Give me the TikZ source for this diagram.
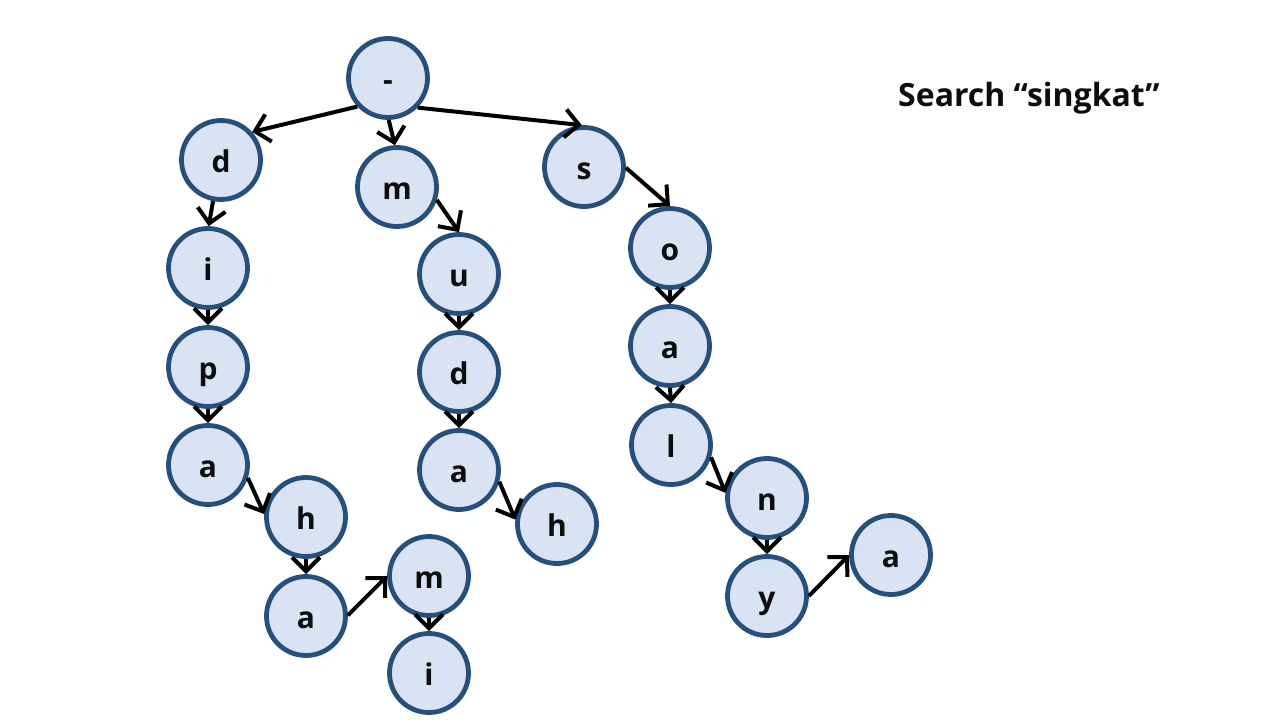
\documentclass[tikz,border=0pt]{standalone}
\usepackage{fontspec}
\setmainfont{Open Sans}
\usetikzlibrary{arrows.meta}
\definecolor{nodefill}{HTML}{DAE3F3}
\definecolor{nodeline}{HTML}{25507D}
\definecolor{ink}{HTML}{0D0D0D}
\begin{document}
\begin{tikzpicture}[x=1pt,y=-1pt,
  letter/.style={circle,draw=nodeline,fill=nodefill,line width=4.8pt,
    minimum size=79pt,inner sep=0pt,text=ink,
    font=\fontsize{30}{35}\selectfont\bfseries,
    text height=27pt,text depth=3pt},
  link/.style={line width=4pt,-{Straight Barb[length=14pt,width=28pt,line width=4pt]}}]
\useasboundingbox (0,0) rectangle (1280,720);

% trie nodes
\node[letter] (root) at (388,78) {-};
\node[letter] (d)  at (221,160) {d};
\node[letter] (m)  at (397,187) {m};
\node[letter] (s)  at (584,167) {s};
\node[letter] (i)  at (208,268) {i};
\node[letter] (p)  at (208,367) {p};
\node[letter] (a1) at (208,465) {a};
\node[letter] (h1) at (306,517) {h};
\node[letter] (a2) at (306,616) {a};
\node[letter] (m2) at (429,576) {m};
\node[letter] (i2) at (429,673) {i};
\node[letter] (u)  at (459,274) {u};
\node[letter] (d2) at (459,372) {d};
\node[letter] (a3) at (459,470) {a};
\node[letter] (h2) at (557,524) {h};
\node[letter] (o)  at (670,248) {o};
\node[letter] (a4) at (670,346) {a};
\node[letter] (l)  at (671,445) {l};
\node[letter] (n)  at (767,498) {n};
\node[letter] (y)  at (767,596) {y};
\node[letter] (a5) at (891,555) {a};

% title
\node[anchor=west,text=ink,font=\fontsize{32}{38}\selectfont\bfseries,inner sep=0pt] (title) at (898,98) {Search “singkat”};

% edges
\draw[link] (root.223) -- (d.42);
\draw[link] (root.271) -- (m.93);
\draw[link] (root.-45) -- (s.93);
\draw[link] (d.259) -- (i.89);
\draw[link] (i.270) -- (p.90);
\draw[link] (p.270) -- (a1.90);
\draw[link] (a1.-18) -- (h1.176);
\draw[link] (h1.270) -- (a2.90);
\draw[link] (a2.1) -- (m2.180);
\draw[link] (m2.270) -- (i2.90);
\draw[link] (m.-18) -- (u.90);
\draw[link] (u.270) -- (d2.90);
\draw[link] (d2.270) -- (a3.90);
\draw[link] (a3.-16) -- (h2.174);
\draw[link] (s.-1) -- (o.90);
\draw[link] (o.270) -- (a4.90);
\draw[link] (a4.270) -- (l.90);
\draw[link] (l.-17) -- (n.173);
\draw[link] (n.270) -- (y.90);
\draw[link] (y.0) -- (a5.180);
\end{tikzpicture}
\end{document}
